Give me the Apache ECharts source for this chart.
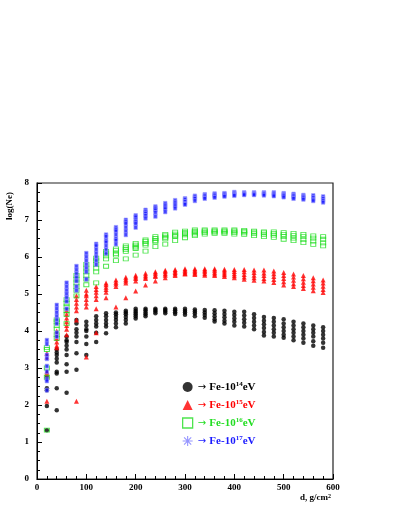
<!DOCTYPE html>
<html>
<head>
<meta charset="utf-8">
<script src="https://cdn.jsdelivr.net/npm/echarts@6/dist/echarts.min.js"></script>
<style>
  html, body { margin: 0; padding: 0; background: #fff; }
  #chart { width: 399px; height: 516px; }
</style>
</head>
<body>
<div id="chart"></div>
<script>
// depths, g/cm2 (one column of showers every 20)
const depths = [20, 40, 60, 80, 100, 120, 140, 160, 180, 200, 220, 240, 260, 280, 300,
  320, 340, 360, 380, 400, 420, 440, 460, 480, 500, 520, 540, 560, 580];

// log(Ne) per depth, Fe 10^14 eV
const fe14 = [
  [2.75, 2.7, 2.45, 2.4, 1.97, 1.32],
  [3.5, 3.42, 3.35, 3.25, 3.15, 2.9, 2.85, 2.45, 1.86],
  [3.85, 3.75, 3.7, 3.6, 3.5, 3.35, 3.1, 2.9, 2.33],
  [4.3, 4.2, 4.05, 3.95, 3.85, 3.7, 3.4, 2.95],
  [4.25, 4.15, 4.05, 4.0, 3.85, 3.65, 3.35],
  [4.4, 4.3, 4.2, 4.12, 3.95, 3.7],
  [4.48, 4.4, 4.3, 4.2, 4.12, 3.94],
  [4.5, 4.45, 4.38, 4.3, 4.2, 4.1],
  [4.55, 4.5, 4.45, 4.38, 4.3, 4.2],
  [4.6, 4.55, 4.5, 4.45, 4.4, 4.34],
  [4.6, 4.56, 4.5, 4.45, 4.4],
  [4.6, 4.57, 4.53, 4.48],
  [4.6, 4.57, 4.53, 4.48],
  [4.6, 4.56, 4.51, 4.46],
  [4.6, 4.55, 4.5, 4.44],
  [4.58, 4.53, 4.47, 4.4],
  [4.57, 4.5, 4.43, 4.36],
  [4.56, 4.48, 4.4, 4.32, 4.26],
  [4.55, 4.46, 4.37, 4.28, 4.2],
  [4.52, 4.43, 4.34, 4.25, 4.15],
  [4.52, 4.42, 4.32, 4.22, 4.12],
  [4.45, 4.35, 4.25, 4.15, 4.05],
  [4.38, 4.28, 4.18, 4.08, 3.97, 3.88],
  [4.35, 4.25, 4.15, 4.05, 3.95, 3.85],
  [4.32, 4.2, 4.1, 4.0, 3.9, 3.82],
  [4.25, 4.15, 4.05, 3.95, 3.85, 3.75],
  [4.2, 4.1, 4.0, 3.9, 3.8, 3.68],
  [4.15, 4.05, 3.95, 3.85, 3.72, 3.6],
  [4.1, 4.0, 3.9, 3.8, 3.68, 3.55]
];

// Fe 10^15 eV
const fe15 = [
  [3.4, 3.3, 2.9, 2.85, 2.1],
  [4.0, 3.9, 3.8, 3.7, 3.6, 3.55],
  [4.55, 4.45, 4.35, 4.25, 4.15, 4.05, 3.9],
  [4.95, 4.85, 4.75, 4.65, 4.55, 4.3, 2.1],
  [5.1, 5.0, 4.95, 4.85, 4.75, 4.65, 3.3],
  [5.2, 5.12, 5.05, 4.95, 4.85, 4.6, 3.95],
  [5.3, 5.25, 5.18, 5.12, 5.05, 4.9],
  [5.38, 5.32, 5.27, 5.2, 4.65],
  [5.45, 5.4, 5.35, 5.3, 4.9],
  [5.51, 5.46, 5.42, 5.35, 5.08],
  [5.56, 5.51, 5.46, 5.42, 5.24],
  [5.6, 5.56, 5.51, 5.47, 5.35],
  [5.64, 5.6, 5.55, 5.51, 5.44],
  [5.66, 5.62, 5.58, 5.54, 5.5],
  [5.68, 5.64, 5.6, 5.56, 5.54],
  [5.68, 5.64, 5.6, 5.56, 5.53],
  [5.68, 5.64, 5.6, 5.55, 5.51],
  [5.68, 5.64, 5.59, 5.54, 5.5],
  [5.67, 5.62, 5.57, 5.52, 5.47],
  [5.66, 5.61, 5.55, 5.49, 5.44],
  [5.66, 5.6, 5.53, 5.46, 5.4],
  [5.65, 5.58, 5.51, 5.44, 5.37],
  [5.65, 5.57, 5.5, 5.42, 5.35],
  [5.62, 5.55, 5.47, 5.39, 5.31],
  [5.58, 5.5, 5.42, 5.33, 5.24],
  [5.54, 5.46, 5.37, 5.28, 5.2],
  [5.5, 5.41, 5.32, 5.23, 5.15],
  [5.44, 5.36, 5.27, 5.18, 5.09],
  [5.38, 5.3, 5.21, 5.12, 5.04]
];

// Fe 10^16 eV
const fe16 = [
  [3.55, 3.5, 3.0, 2.75, 1.32],
  [4.3, 4.25, 4.15, 4.05, 3.9, 3.8],
  [4.85, 4.75, 4.65, 4.55, 4.45, 4.2],
  [5.5, 5.4, 5.3, 5.2, 5.1, 4.95],
  [5.8, 5.7, 5.6, 5.5, 5.4, 5.25],
  [5.97, 5.9, 5.8, 5.7, 5.6, 5.3],
  [6.15, 6.1, 6.03, 5.95, 5.75],
  [6.22, 6.17, 6.1, 6.05, 5.9],
  [6.3, 6.25, 6.2, 6.15, 5.95],
  [6.37, 6.32, 6.27, 6.23, 6.05],
  [6.46, 6.42, 6.37, 6.32, 6.16],
  [6.55, 6.5, 6.45, 6.41, 6.28],
  [6.61, 6.57, 6.53, 6.49, 6.35],
  [6.67, 6.62, 6.58, 6.55, 6.44],
  [6.7, 6.66, 6.63, 6.6, 6.52],
  [6.73, 6.69, 6.66, 6.62, 6.58],
  [6.73, 6.7, 6.66, 6.62],
  [6.73, 6.7, 6.67, 6.64],
  [6.73, 6.7, 6.67, 6.64],
  [6.73, 6.7, 6.66, 6.62],
  [6.72, 6.69, 6.65, 6.61],
  [6.7, 6.67, 6.63, 6.58],
  [6.68, 6.65, 6.61, 6.55],
  [6.68, 6.64, 6.59, 6.53],
  [6.66, 6.61, 6.55, 6.48],
  [6.64, 6.58, 6.51, 6.44],
  [6.61, 6.55, 6.47, 6.39],
  [6.57, 6.51, 6.43, 6.34],
  [6.55, 6.48, 6.38, 6.3]
];

// Fe 10^17 eV
const fe17 = [
  [3.75, 3.65, 3.35, 3.25, 3.05, 2.9, 2.7, 2.65, 2.4],
  [4.7, 4.6, 4.5, 4.4, 4.3, 4.2, 3.95, 3.85],
  [5.3, 5.2, 5.1, 5.0, 4.9, 4.8, 4.6],
  [5.75, 5.65, 5.55, 5.45, 5.35, 5.2, 5.1],
  [6.1, 6.0, 5.9, 5.8, 5.7, 5.6, 5.4],
  [6.35, 6.3, 6.2, 6.1, 6.0, 5.9, 5.8],
  [6.6, 6.55, 6.45, 6.4, 6.3, 6.2, 6.1],
  [6.8, 6.75, 6.7, 6.6, 6.5, 6.45, 6.35],
  [7.0, 6.95, 6.9, 6.8, 6.7, 6.6],
  [7.12, 7.08, 7.0, 6.95, 6.9, 6.8],
  [7.27, 7.22, 7.18, 7.12, 7.05],
  [7.36, 7.32, 7.27, 7.2, 7.1],
  [7.45, 7.4, 7.35, 7.3, 7.22],
  [7.53, 7.48, 7.43, 7.38, 7.32],
  [7.58, 7.55, 7.5, 7.45, 7.42],
  [7.65, 7.62, 7.58, 7.52],
  [7.69, 7.66, 7.62, 7.58],
  [7.71, 7.68, 7.65, 7.61],
  [7.72, 7.7, 7.67, 7.64],
  [7.75, 7.72, 7.69, 7.66],
  [7.74, 7.72, 7.7, 7.68],
  [7.74, 7.72, 7.7, 7.68],
  [7.74, 7.72, 7.7, 7.67],
  [7.74, 7.71, 7.68, 7.65],
  [7.72, 7.69, 7.66, 7.62],
  [7.7, 7.66, 7.62, 7.58],
  [7.67, 7.63, 7.6, 7.56],
  [7.66, 7.61, 7.56, 7.52],
  [7.63, 7.58, 7.53, 7.48]
];

const seriesNames = ['Fe-14', 'Fe-15', 'Fe-16', 'Fe-17'];
const exponents = ['14', '15', '16', '17'];
const colors = ['#000000', '#ff0000', '#22dd22', '#1a1aff'];

function points(vals) {
  return depths.flatMap((d, i) => vals[i].map(v => [d, v]));
}

const serif = 'Liberation Serif';
const rich = {};
colors.forEach((c, i) => {
  rich['a' + i] = { color: i === 0 ? '#000' : c, fontFamily: 'DejaVu Sans', fontSize: 10 };
  rich['t' + i] = { color: c, fontFamily: serif, fontWeight: 'bold', fontSize: 11 };
  rich['s' + i] = { color: c, fontFamily: serif, fontWeight: 'bold', fontSize: 7, verticalAlign: 'top', padding: [0, 0, 5, 0] };
});

const chart = echarts.init(document.getElementById('chart'), null, { renderer: 'canvas' });

const option = {
  animation: false,
  backgroundColor: '#fff',
  grid: {
    left: 37, right: 66, top: 183, bottom: 37,
    show: true, borderColor: '#222', borderWidth: 1.2, backgroundColor: 'transparent'
  },
  xAxis: {
    type: 'value', min: 0, max: 600, interval: 100,
    axisLine: { lineStyle: { color: '#000', width: 1 } },
    axisTick: { inside: true, length: 5, lineStyle: { color: '#000' } },
    minorTick: { show: true, splitNumber: 5, length: 3, lineStyle: { color: '#000' } },
    splitLine: { show: false },
    axisLabel: { color: '#000', fontFamily: serif, fontWeight: 'bold', fontSize: 9, margin: 4 }
  },
  yAxis: {
    type: 'value', min: 0, max: 8, interval: 1,
    axisLine: { show: true, lineStyle: { color: '#000', width: 1 } },
    axisTick: { show: true, inside: true, length: 5, lineStyle: { color: '#000' } },
    minorTick: { show: true, splitNumber: 4, length: 3, lineStyle: { color: '#000' } },
    splitLine: { show: false },
    axisLabel: { color: '#000', fontFamily: serif, fontWeight: 'bold', fontSize: 9, margin: 8 }
  },
  legend: {
    orient: 'vertical', left: 182, top: 381, padding: 0, itemGap: 6,
    itemWidth: 10, itemHeight: 10,
    data: [
      { name: seriesNames[0], icon: 'circle' },
      { name: seriesNames[1], icon: 'triangle' },
      { name: seriesNames[2], icon: 'path://M2,2L8,2L8,8L2,8Z',
        itemStyle: { color: 'rgba(0,0,0,0)', borderColor: colors[2], borderWidth: 1.3 } },
      { name: seriesNames[3], icon: 'path://M5,0.5L5,9.5M0.5,5L9.5,5M1.8,1.8L8.2,8.2M8.2,1.8L1.8,8.2',
        itemStyle: { color: 'rgba(0,0,0,0)', borderColor: '#7a7aff', borderWidth: 1.1 } }
    ],
    formatter: function (name) {
      const i = seriesNames.indexOf(name);
      return '{a' + i + '|\u2192} {t' + i + '|Fe-10}{s' + i + '|' + exponents[i] + '}{t' + i + '|eV}';
    },
    textStyle: { rich: rich }
  },
  graphic: [
    {
      type: 'text', x: 10, y: 206, rotation: Math.PI / 2,
      style: { text: 'log(Ne)', fontFamily: serif, fontWeight: 'bold', fontSize: 9, fill: '#000', align: 'center', verticalAlign: 'middle' }
    },
    {
      type: 'text', x: 331, y: 498,
      style: {
        text: '{a|d, g/cm}{b|2}',
        align: 'right', verticalAlign: 'middle',
        rich: {
          a: { fontFamily: serif, fontWeight: 'bold', fontSize: 9, fill: '#000' },
          b: { fontFamily: serif, fontWeight: 'bold', fontSize: 6, fill: '#000', verticalAlign: 'top', padding: [0, 0, 4, 0] }
        }
      }
    }
  ],
  series: [
    {
      name: seriesNames[0], type: 'scatter', data: points(fe14),
      symbol: 'circle', symbolSize: 4.5,
      itemStyle: { color: colors[0] }
    },
    {
      name: seriesNames[1], type: 'scatter', data: points(fe15),
      symbol: 'triangle', symbolSize: 5,
      itemStyle: { color: colors[1] }
    },
    {
      name: seriesNames[2], type: 'scatter', data: points(fe16),
      symbol: 'rect', symbolSize: [5, 4],
      itemStyle: { color: 'rgba(0,0,0,0)', borderColor: colors[2], borderWidth: 0.9 }
    },
    {
      name: seriesNames[3], type: 'scatter', data: points(fe17),
      symbol: 'rect', symbolSize: [3.5, 4],
      itemStyle: { color: colors[3], borderColor: '#a0a0ff', borderWidth: 0.8 }
    }
  ]
};

chart.setOption(option);
</script>
</body>
</html>
